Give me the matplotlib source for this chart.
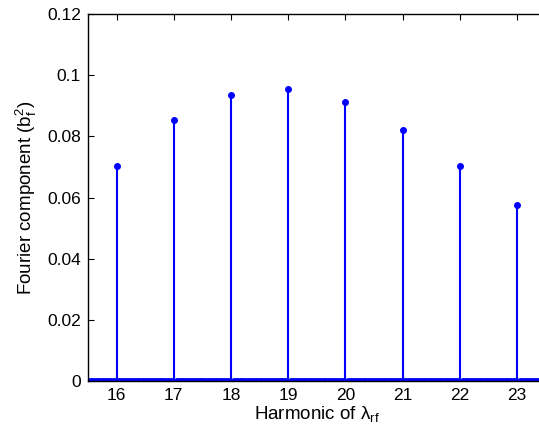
import matplotlib
matplotlib.use('Agg')
import matplotlib.pyplot as plt
import matplotlib.ticker as mticker
import numpy as np

plt.rcParams['font.family'] = ['Liberation Sans', 'DejaVu Sans']
plt.rcParams['mathtext.fontset'] = 'custom'
plt.rcParams['mathtext.rm'] = 'Liberation Sans'
plt.rcParams['mathtext.it'] = 'Liberation Sans'

# Fourier amplitudes at the integer harmonics
harmonics = [16, 17, 18, 19, 20, 21, 22, 23]
b_f2 = [0.0702, 0.0855, 0.0936, 0.0955, 0.0912, 0.0822, 0.0703, 0.0575]

# fine harmonic grid; everything off the integer harmonics is zero
step = 0.05
h = np.round(np.arange(15.5, 23.5 + step / 2, step), 4)
amp = np.zeros_like(h)
for k, b in zip(harmonics, b_f2):
    amp[np.isclose(h, k)] = b

fig = plt.figure(figsize=(5.39, 4.34), dpi=100)
ax = fig.add_axes([88 / 539, 1 - 381 / 434, 457.6 / 539, 367 / 434])

ml, sl, bl = ax.stem(h, amp, basefmt=' ')
plt.setp(sl, color='b', linewidth=1.5)
plt.setp(ml, color='b', markersize=4)

ax.set_xlim(15.5, 23.5)
ax.set_ylim(0, 0.12)
ax.set_xticks(harmonics)
ax.set_yticks(np.arange(0, 0.121, 0.02))
ax.yaxis.set_major_formatter(mticker.FormatStrFormatter('%g'))
ax.tick_params(direction='in', top=True, right=True, labelsize=12.5,
               length=4, width=0.8, pad=5)
for s in ax.spines.values():
    s.set_linewidth(1.0)

ax.set_xlabel(r'Harmonic of $\lambda_{\mathrm{rf}}$', fontsize=13.5, labelpad=1)
ax.set_ylabel(r'Fourier component (b$_\mathrm{f}^2$)', fontsize=13.5, labelpad=6)

fig.savefig('out.png', dpi=100)
